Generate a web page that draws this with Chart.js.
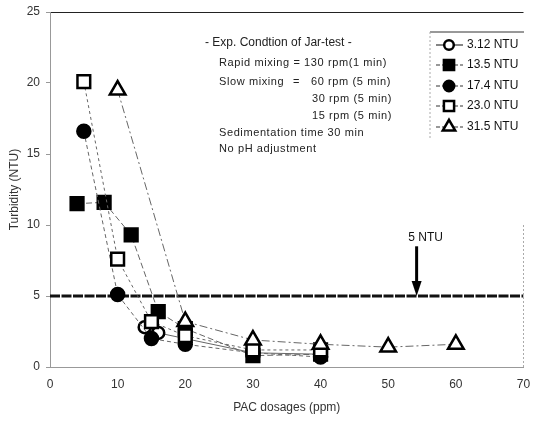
<!DOCTYPE html>
<html>
<head>
<meta charset="utf-8">
<script src="https://cdn.jsdelivr.net/npm/chart.js@4/dist/chart.umd.min.js"></script>
<style>
  html, body { margin: 0; padding: 0; background: #fff; }
  #wrap { width: 535px; height: 421px; }
</style>
</head>
<body>
<div id="wrap"><canvas id="jarChart"></canvas></div>
<script>
// PAC dosage (ppm) and residual turbidity (NTU) for each raw-water turbidity
const doseA = [14, 16, 20, 30, 40];
const turbA = [2.8, 2.4, 2.0, 1.0, 0.9];      // 3.12 NTU
const doseB = [4, 8, 12, 16, 20, 30, 40];
const turbB = [11.5, 11.6, 9.3, 3.9, 2.7, 0.8, 0.9]; // 13.5 NTU
const doseC = [5, 10, 15, 20, 30, 40];
const turbC = [16.6, 5.1, 2.0, 1.6, 1.0, 0.7]; // 17.4 NTU
const doseD = [5, 10, 15, 20, 30, 40];
const turbD = [20.1, 7.6, 3.2, 2.2, 1.2, 1.2]; // 23.0 NTU
const doseE = [10, 20, 30, 40, 50, 60];
const turbE = [19.5, 3.2, 1.9, 1.6, 1.4, 1.6]; // 31.5 NTU

const seriesNames = ['3.12 NTU', '13.5 NTU', '17.4 NTU', '23.0 NTU', '31.5 NTU'];
const limitDose = [0, 70];
const limitTurb = [5, 5];
const limitLabel = '5 NTU';
const limitArrow = { x: 54.2, from: 8.5, to: 5.0 };

const xTickValues = [0, 10, 20, 30, 40, 50, 60, 70];
const yTickValues = [0, 5, 10, 15, 20, 25];

const notes = [
  ['- Exp. Condtion of Jar-test -', 205, 43, 12],
  ['Rapid mixing = 130 rpm(1 min)', 219, 63, 11],
  ['Slow mixing', 219, 82, 11],
  ['=', 293, 82, 11],
  ['60 rpm (5 min)', 311, 82, 11],
  ['30 rpm (5 min)', 312, 99, 11],
  ['15 rpm (5 min)', 312, 116, 11],
  ['Sedimentation time 30 min', 219, 133, 11],
  ['No pH adjustment', 219, 149, 11]
];

function pairs(xs, ys) {
  return xs.map((x, i) => ({ x: x, y: ys[i] }));
}

const FONT = "'Liberation Sans', Arial, sans-serif";
const lineGrey = '#666';

const styles = [
  { pointStyle: 'circle', radius: 6, fill: '#fff', dash: [], order: 5 },
  { pointStyle: 'rect', radius: 9, fill: '#000', dash: [6, 3], order: 4 },
  { pointStyle: 'circle', radius: 6.5, fill: '#000', dash: [4, 3], order: 3 },
  { pointStyle: 'rect', radius: 9, fill: '#fff', dash: [3, 3], order: 2 },
  { pointStyle: 'triangle', radius: 9, fill: '#fff', dash: [8, 3, 2, 3], order: 1 }
];
const seriesData = [
  pairs(doseA, turbA), pairs(doseB, turbB), pairs(doseC, turbC),
  pairs(doseD, turbD), pairs(doseE, turbE)
];

const datasets = seriesNames.map((name, i) => ({
  label: name,
  data: seriesData[i],
  showLine: true,
  borderColor: lineGrey,
  borderWidth: 1,
  borderDash: styles[i].dash,
  tension: 0,
  pointStyle: styles[i].pointStyle,
  pointRadius: styles[i].radius,
  pointHoverRadius: styles[i].radius,
  pointBackgroundColor: styles[i].fill,
  pointBorderColor: '#000',
  pointBorderWidth: 2.5,
  order: styles[i].order
}));

datasets.push({
  label: limitLabel,
  data: pairs(limitDose, limitTurb),
  showLine: true,
  borderColor: '#111',
  borderWidth: 3,
  borderDash: [10, 1.5],
  pointRadius: 0,
  order: 10
});

function drawMarker(ctx, style, x, y) {
  const r = style.radius;
  ctx.save();
  ctx.setLineDash([]);
  ctx.lineWidth = 2.5;
  ctx.strokeStyle = '#000';
  ctx.fillStyle = style.fill;
  ctx.beginPath();
  if (style.pointStyle === 'circle') {
    ctx.arc(x, y, r, 0, Math.PI * 2);
  } else if (style.pointStyle === 'rect') {
    const s = r * Math.SQRT1_2;
    ctx.rect(x - s, y - s, 2 * s, 2 * s);
  } else {
    for (let k = 0; k < 3; k++) {
      const a = k * 2 * Math.PI / 3;
      const px = x + Math.sin(a) * r, py = y - Math.cos(a) * r;
      if (k === 0) ctx.moveTo(px, py); else ctx.lineTo(px, py);
    }
    ctx.closePath();
  }
  ctx.fill();
  ctx.stroke();
  ctx.restore();
}

const extras = {
  id: 'extras',
  afterDatasetsDraw(chart) {
    const ctx = chart.ctx;
    const xs = chart.scales.x, ys = chart.scales.y;
    const area = chart.chartArea;

    // dotted right frame
    ctx.save();
    ctx.strokeStyle = '#aaa';
    ctx.lineWidth = 1;
    ctx.setLineDash([2, 2]);
    ctx.beginPath();
    ctx.moveTo(area.right, ys.getPixelForValue(10));
    ctx.lineTo(area.right, area.bottom);
    ctx.stroke();
    ctx.restore();

    // arrow to the 5 NTU line
    const ax = xs.getPixelForValue(limitArrow.x);
    const ay0 = ys.getPixelForValue(limitArrow.from);
    const ay1 = ys.getPixelForValue(limitArrow.to);
    ctx.save();
    ctx.strokeStyle = '#000';
    ctx.fillStyle = '#000';
    ctx.lineWidth = 3;
    ctx.beginPath();
    ctx.moveTo(ax, ay0);
    ctx.lineTo(ax, ay1 - 12);
    ctx.stroke();
    ctx.beginPath();
    ctx.moveTo(ax - 5, ay1 - 15);
    ctx.lineTo(ax + 5, ay1 - 15);
    ctx.lineTo(ax, ay1);
    ctx.closePath();
    ctx.fill();
    ctx.font = '12px ' + FONT;
    ctx.textAlign = 'center';
    ctx.textBaseline = 'middle';
    ctx.fillStyle = '#111';
    ctx.fillText(limitLabel, ax + 9, ay0 - 9);
    ctx.restore();

    // experiment conditions
    ctx.save();
    ctx.fillStyle = '#222';
    ctx.textAlign = 'left';
    ctx.textBaseline = 'middle';
    notes.forEach(n => {
      ctx.font = n[3] + 'px ' + FONT;
      ctx.letterSpacing = n[3] === 11 ? '0.6px' : '0px';
      ctx.fillText(n[0], n[1], n[2]);
    });
    ctx.restore();

    // legend
    const lx = 430, ly = 32;
    ctx.save();
    ctx.strokeStyle = '#333';
    ctx.lineWidth = 1;
    ctx.beginPath();
    ctx.moveTo(lx, ly);
    ctx.lineTo(524, ly);
    ctx.stroke();
    ctx.strokeStyle = '#aaa';
    ctx.setLineDash([2, 2]);
    ctx.beginPath();
    ctx.moveTo(lx, ly);
    ctx.lineTo(lx, 140);
    ctx.stroke();
    const rows = [45, 65, 86, 106, 127];
    seriesNames.forEach((name, i) => {
      const y = rows[i];
      ctx.strokeStyle = '#333';
      ctx.lineWidth = 1.2;
      ctx.setLineDash(styles[i].dash.length ? [4, 2] : []);
      ctx.beginPath();
      ctx.moveTo(436, y);
      ctx.lineTo(463, y);
      ctx.stroke();
      const st = Object.assign({}, styles[i], { radius: styles[i].radius * 0.8 });
      drawMarker(ctx, st, 449, y);
      ctx.fillStyle = '#111';
      ctx.font = '12px ' + FONT;
      ctx.textAlign = 'left';
      ctx.textBaseline = 'middle';
      ctx.fillText(name, 467, y);
    });
    ctx.restore();
  }
};

new Chart(document.getElementById('jarChart'), {
  type: 'scatter',
  data: { datasets: datasets },
  options: {
    responsive: true,
    maintainAspectRatio: false,
    animation: false,
    layout: { padding: { top: 12, right: 3, left: 0, bottom: 0 } },
    plugins: {
      legend: { display: false },
      tooltip: { enabled: false }
    },
    scales: {
      x: {
        type: 'linear',
        min: 0,
        max: 70,
        afterBuildTicks: s => { s.ticks = xTickValues.map(v => ({ value: v })); },
        afterFit: s => { s.height = 54; s.paddingLeft = 0; s.paddingRight = 0; },
        grid: { drawOnChartArea: false, drawTicks: false },
        border: { display: true, color: '#999', dash: [3, 2] },
        ticks: { padding: 10, color: '#333', font: { family: FONT, size: 12 }, maxRotation: 0 },
        title: {
          display: true,
          text: 'PAC dosages (ppm)',
          color: '#333',
          font: { family: FONT, size: 12 },
          padding: { top: 4, bottom: 6 }
        }
      },
      y: {
        type: 'linear',
        min: 0,
        max: 25,
        afterBuildTicks: s => { s.ticks = yTickValues.map(v => ({ value: v })); },
        afterFit: s => { s.width = 50; s.paddingTop = 0; s.paddingBottom = 0; },
        grid: {
          drawOnChartArea: true,
          color: c => (c.tick && c.tick.value === 25 ? '#222' : 'rgba(0,0,0,0)'),
          tickColor: '#999',
          tickLength: 4
        },
        border: { display: true, color: '#999' },
        ticks: { padding: 6, color: '#333', font: { family: FONT, size: 12 } },
        title: {
          display: true,
          text: 'Turbidity (NTU)',
          color: '#333',
          font: { family: FONT, size: 12 },
          padding: { top: 7, bottom: 4 }
        }
      }
    }
  },
  plugins: [extras]
});
</script>
</body>
</html>
